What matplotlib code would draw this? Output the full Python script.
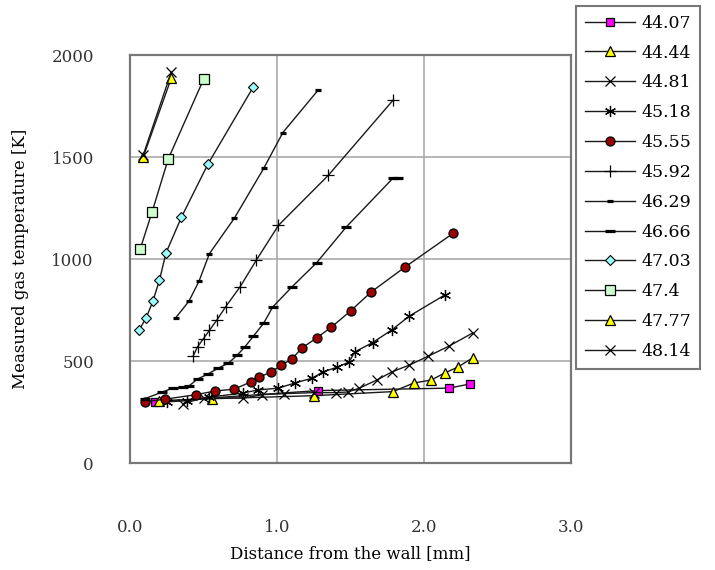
import matplotlib
matplotlib.use("Agg")
import matplotlib.pyplot as plt

plt.rcParams['font.family'] = ['DejaVu Serif']

labels = ["44.07", "44.44", "44.81", "45.18", "45.55", "45.92",
          "46.29", "46.66", "47.03", "47.4", "47.77", "48.14"]

x_4407 = [0.17, 1.28, 2.17, 2.31]
y_4407 = [300, 355, 367, 387]

x_4444 = [0.20, 0.56, 1.25, 1.79, 1.93, 2.05, 2.14, 2.23, 2.33]
y_4444 = [305, 315, 330, 350, 392, 407, 441, 470, 515]

x_4481 = [0.36, 0.50, 0.77, 0.90, 1.05, 1.25, 1.40, 1.48, 1.56, 1.68, 1.78, 1.90, 2.03, 2.17, 2.33]
y_4481 = [290, 320, 318, 335, 340, 345, 345, 348, 367, 407, 446, 480, 524, 573, 637]

x_4518 = [0.25, 0.39, 0.54, 0.77, 0.87, 1.01, 1.12, 1.24, 1.31, 1.41, 1.49, 1.53, 1.65, 1.78, 1.90, 2.14]
y_4518 = [300, 305, 323, 343, 358, 367, 392, 416, 446, 470, 495, 545, 590, 652, 720, 823]

x_4555 = [0.10, 0.24, 0.45, 0.58, 0.71, 0.82, 0.88, 0.96, 1.03, 1.10, 1.17, 1.27, 1.37, 1.50, 1.64, 1.87, 2.20]
y_4555 = [300, 313, 335, 353, 362, 397, 421, 446, 480, 509, 564, 613, 666, 745, 838, 960, 1127]

x_4592 = [0.43, 0.46, 0.50, 0.54, 0.59, 0.65, 0.75, 0.86, 1.01, 1.35, 1.79]
y_4592 = [525, 570, 610, 650, 700, 765, 865, 995, 1165, 1411, 1779]

x_4629 = [0.31, 0.40, 0.47, 0.54, 0.71, 0.91, 1.04, 1.28]
y_4629 = [711, 792, 892, 1026, 1200, 1445, 1620, 1828]

x_4666 = [0.10, 0.22, 0.29, 0.36, 0.40, 0.46, 0.53, 0.60, 0.67, 0.73, 0.78, 0.84, 0.91, 0.97, 1.10, 1.27, 1.47, 1.79, 1.82]
y_4666 = [315, 348, 367, 372, 377, 412, 436, 465, 490, 529, 568, 622, 686, 764, 862, 982, 1156, 1397, 1397]

x_4703 = [0.06, 0.11, 0.155, 0.20, 0.245, 0.35, 0.53, 0.84]
y_4703 = [650, 711, 792, 895, 1030, 1205, 1465, 1845]

x_4740 = [0.07, 0.15, 0.26, 0.50]
y_4740 = [1050, 1230, 1490, 1880]

x_4777 = [0.09, 0.28]
y_4777 = [1500, 1885]

x_4814 = [0.09, 0.28]
y_4814 = [1510, 1915]

xs = [x_4407, x_4444, x_4481, x_4518, x_4555, x_4592, x_4629, x_4666, x_4703, x_4740, x_4777, x_4814]
ys = [y_4407, y_4444, y_4481, y_4518, y_4555, y_4592, y_4629, y_4666, y_4703, y_4740, y_4777, y_4814]

styles = [
    dict(marker='s', ms=6, mfc='#ff00ff', mec='black', mew=0.9),
    dict(marker='^', ms=6.5, mfc='#ffff00', mec='black', mew=0.9),
    dict(marker='x', ms=7, mfc='black', mec='black', mew=0.9),
    dict(marker=(6, 2, 0), ms=8, mfc='black', mec='black', mew=0.9),
    dict(marker='o', ms=6.5, mfc='#990000', mec='black', mew=0.9),
    dict(marker='+', ms=9, mfc='black', mec='black', mew=0.9),
    dict(marker='_', ms=5, mfc='black', mec='black', mew=2.3),
    dict(marker='_', ms=7.5, mfc='black', mec='black', mew=2.3),
    dict(marker='D', ms=5.5, mfc='#99ffff', mec='black', mew=0.8),
    dict(marker='s', ms=6.5, mfc='#ccffcc', mec='black', mew=0.9),
    dict(marker='^', ms=6.5, mfc='#ffff00', mec='black', mew=0.9),
    dict(marker='x', ms=7, mfc='black', mec='black', mew=0.9),
]

fig = plt.figure(figsize=(7.15, 5.70), dpi=100)
ax = fig.add_axes([130 / 715, 107 / 570, 441 / 715, 408 / 570])

handles = []
for xv, yv, lab, st in zip(xs, ys, labels, styles):
    h, = ax.plot(xv, yv, color='#1a1a1a', lw=1.0, label=lab, **st)
    handles.append(h)

ax.set_xlim(0, 3.0)
ax.set_ylim(0, 2000)
ax.set_xticks([0.0, 1.0, 2.0, 3.0])
ax.set_xticklabels(["0.0", "1.0", "2.0", "3.0"])
ax.set_yticks([0, 500, 1000, 1500, 2000])
ax.grid(True, color='#aaaaaa', lw=1.2)
ax.set_axisbelow(True)
for s in ax.spines.values():
    s.set_color('#777777')
    s.set_linewidth(1.6)
ax.tick_params(axis='x', length=0, pad=40, labelsize=12, colors='#333333')
ax.tick_params(axis='y', length=0, pad=26, labelsize=12, colors='#333333')
ax.set_xlabel("Distance from the wall [mm]", fontsize=12, labelpad=7)
ax.set_ylabel("Measured gas temperature [K]", fontsize=12, labelpad=16)

leg = fig.legend(handles=handles, loc='upper left',
                 bbox_to_anchor=(576 / 715, 1 - 6 / 570),
                 frameon=True, fancybox=False, fontsize=12.5,
                 handlelength=2.9, handletextpad=0.35, labelspacing=0.74,
                 borderpad=0.5, borderaxespad=0)
leg.get_frame().set_edgecolor('#555555')
leg.get_frame().set_linewidth(1.5)

fig.savefig("out.png", dpi=100)
